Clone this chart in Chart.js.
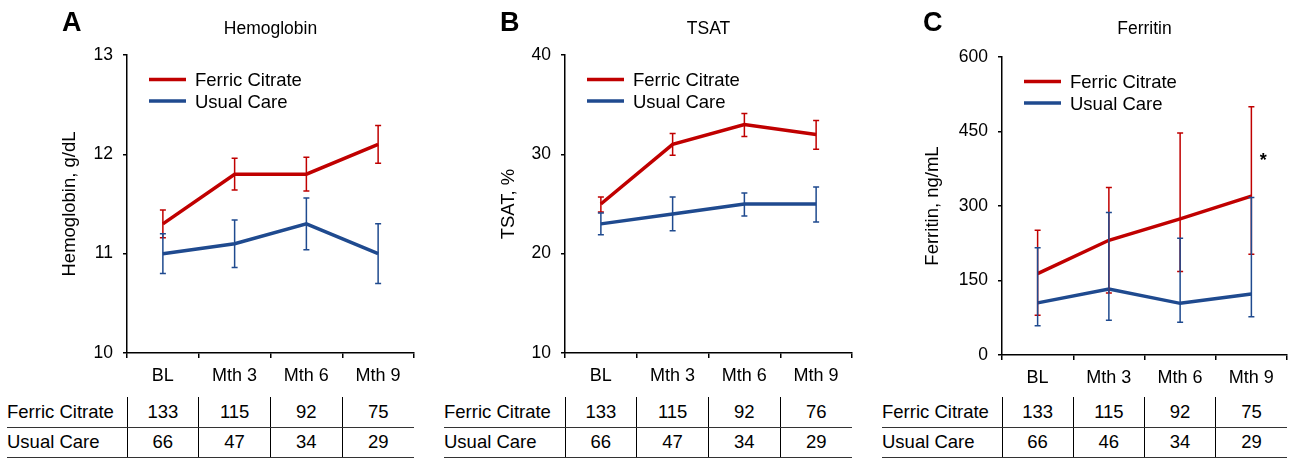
<!DOCTYPE html>
<html>
<head>
<meta charset="utf-8">
<script src="https://cdn.jsdelivr.net/npm/chart.js@4.4.0/dist/chart.umd.min.js"></script>
<style>
  body { margin: 0; background: #fff; font-family: "Liberation Sans", Arial, sans-serif; }
  #page { position: relative; width: 1292px; height: 458px; overflow: hidden; }
  #page canvas { position: absolute; top: 0; }
  table.counts { position: absolute; top: 397px; border-collapse: collapse; table-layout: fixed;
    font-size: 18.5px; color: #000; }
  table.counts td { height: 29.5px; padding: 0; text-align: center; vertical-align: middle;
    border-bottom: 1.5px solid #333; white-space: nowrap; }
  table.counts tr:first-child td { border-top: 2px solid #333; }
  table.counts tr:last-child td { border-bottom: 2px solid #333; }
  table.counts td + td { border-left: 1.5px solid #000; }
  table.counts td:first-child { text-align: left; }
</style>
</head>
<body>
<div id="page"></div>
<script>
// categories and groups
const categories = ['BL', 'Mth 3', 'Mth 6', 'Mth 9'];
const groups = ['Ferric Citrate', 'Usual Care'];

// hemoglobin, g/dL (mean, lower and upper error bar)
const hgbFerric = [11.3, 11.8, 11.8, 12.1];
const hgbFerricLow = [11.16, 11.64, 11.63, 11.91];
const hgbFerricHigh = [11.44, 11.96, 11.97, 12.29];
const hgbUsual = [11.0, 11.1, 11.3, 11.0];
const hgbUsualLow = [10.80, 10.86, 11.04, 10.70];
const hgbUsualHigh = [11.20, 11.34, 11.56, 11.30];
const hgbTicks = [10, 11, 12, 13];

// TSAT, %
const tsatFerric = [25, 31, 33, 32];
const tsatFerricLow = [24.2, 29.9, 31.8, 30.5];
const tsatFerricHigh = [25.7, 32.1, 34.1, 33.4];
const tsatUsual = [23, 24, 25, 25];
const tsatUsualLow = [21.9, 22.3, 23.8, 23.2];
const tsatUsualHigh = [24.1, 25.7, 26.1, 26.7];
const tsatTicks = [10, 20, 30, 40];

// ferritin, ng/mL
const ferFerric = [164, 231, 274, 320];
const ferFerricLow = [80, 125, 168, 203];
const ferFerricHigh = [251, 337, 447, 500];
const ferUsual = [105, 133, 104, 123];
const ferUsualLow = [59, 70, 66, 77];
const ferUsualHigh = [216, 287, 235, 317];
const ferTicks = [0, 150, 300, 450, 600];

// patients at each visit
const hgbCounts = [[133, 115, 92, 75], [66, 47, 34, 29]];
const tsatCounts = [[133, 115, 92, 76], [66, 47, 34, 29]];
const ferCounts = [[133, 115, 92, 75], [66, 46, 34, 29]];

const RED = '#c00000';
const BLUE = '#1f4a8f';
const FONT = '"Liberation Sans", Arial, sans-serif';
const CANVAS_H = 392;

Chart.defaults.font.family = FONT;
Chart.defaults.color = '#000';

// error bars from dataset.low / dataset.high
const errorBars = {
  id: 'errorBars',
  afterDatasetsDraw(chart) {
    const { ctx } = chart;
    const y = chart.scales.y;
    chart.data.datasets.forEach((ds, i) => {
      const meta = chart.getDatasetMeta(i);
      ctx.save();
      ctx.strokeStyle = ds.borderColor;
      ctx.lineWidth = 1.5;
      meta.data.forEach((pt, j) => {
        const yl = y.getPixelForValue(ds.low[j]);
        const yh = y.getPixelForValue(ds.high[j]);
        ctx.beginPath();
        ctx.moveTo(pt.x, yl); ctx.lineTo(pt.x, yh);
        ctx.moveTo(pt.x - 3, yl); ctx.lineTo(pt.x + 3, yl);
        ctx.moveTo(pt.x - 3, yh); ctx.lineTo(pt.x + 3, yh);
        ctx.stroke();
      });
      ctx.restore();
    });
  }
};

// panel letter, title, legend and the significance mark
const panelText = {
  id: 'panelText',
  afterDraw(chart, args, opts) {
    const { ctx, chartArea: a } = chart;
    ctx.save();
    ctx.fillStyle = '#000';
    ctx.textBaseline = 'alphabetic';
    ctx.textAlign = 'left';
    ctx.font = 'bold 27px ' + FONT;
    ctx.fillText(opts.letter, opts.letterX, 31);
    ctx.textAlign = 'center';
    ctx.font = '17.5px ' + FONT;
    ctx.fillText(opts.title, (a.left + a.right) / 2, 34);

    chart.data.datasets.forEach((ds, i) => {
      const yy = a.top + 24.5 + i * 21.5;
      ctx.strokeStyle = ds.borderColor;
      ctx.lineWidth = 3.5;
      ctx.beginPath();
      ctx.moveTo(a.left + 22, yy);
      ctx.lineTo(a.left + 59, yy);
      ctx.stroke();
      ctx.textAlign = 'left';
      ctx.font = '18.5px ' + FONT;
      ctx.fillText(ds.label, a.left + 68, yy + 6.6);
    });

    if (opts.star) {
      const pt = chart.getDatasetMeta(0).data[opts.star.index];
      ctx.font = 'bold 18px ' + FONT;
      ctx.textAlign = 'center';
      ctx.fillText('*', pt.x + 12, chart.scales.y.getPixelForValue(opts.star.value) + 10);
    }
    ctx.restore();
  }
};

const panels = [
  { letter: 'A', letterX: 62, title: 'Hemoglobin', axis: 'Hemoglobin, g/dL', left: 0, width: 430,
    area: { left: 127, top: 55, right: 414, bottom: 353 }, axisTitleX: 70, tableLeft: 7,
    ticks: hgbTicks, counts: hgbCounts,
    series: [[hgbFerric, hgbFerricLow, hgbFerricHigh], [hgbUsual, hgbUsualLow, hgbUsualHigh]] },
  { letter: 'B', letterX: 70, title: 'TSAT', axis: 'TSAT, %', left: 430, width: 440,
    area: { left: 135, top: 55, right: 422, bottom: 353 }, axisTitleX: 79, tableLeft: 14,
    ticks: tsatTicks, counts: tsatCounts,
    series: [[tsatFerric, tsatFerricLow, tsatFerricHigh], [tsatUsual, tsatUsualLow, tsatUsualHigh]] },
  { letter: 'C', letterX: 53, title: 'Ferritin', axis: 'Ferritin, ng/mL', left: 870, width: 422,
    area: { left: 132, top: 57, right: 417, bottom: 355 }, axisTitleX: 62.5, tableLeft: 12,
    ticks: ferTicks, counts: ferCounts, star: { index: 3, value: 400 },
    series: [[ferFerric, ferFerricLow, ferFerricHigh], [ferUsual, ferUsualLow, ferUsualHigh]] }
];

const page = document.getElementById('page');

function buildTable(p, chart) {
  const a = chart.chartArea;
  const colW = (a.right - a.left) / categories.length;
  const firstW = a.left - p.tableLeft;
  const t = document.createElement('table');
  t.className = 'counts';
  t.style.left = (p.left + p.tableLeft) + 'px';
  t.style.width = (a.right - p.tableLeft) + 'px';
  const cg = document.createElement('colgroup');
  [firstW].concat(categories.map(() => colW)).forEach(w => {
    const c = document.createElement('col');
    c.style.width = w + 'px';
    cg.appendChild(c);
  });
  t.appendChild(cg);
  groups.forEach((g, i) => {
    const tr = document.createElement('tr');
    [g].concat(p.counts[i]).forEach(v => {
      const td = document.createElement('td');
      td.textContent = v;
      tr.appendChild(td);
    });
    t.appendChild(tr);
  });
  page.appendChild(t);
}

panels.forEach(p => {
  const cv = document.createElement('canvas');
  cv.width = p.width;
  cv.height = CANVAS_H;
  cv.style.left = p.left + 'px';
  page.appendChild(cv);

  const xHeight = 37;
  const chart = new Chart(cv, {
    type: 'line',
    data: {
      labels: categories,
      datasets: p.series.map((s, i) => ({
        label: groups[i],
        data: s[0],
        low: s[1],
        high: s[2],
        borderColor: i === 0 ? RED : BLUE,
        backgroundColor: i === 0 ? RED : BLUE,
        borderWidth: 3.5,
        pointRadius: 0,
        tension: 0
      }))
    },
    options: {
      responsive: false,
      animation: false,
      devicePixelRatio: 1,
      layout: { padding: { left: 0, top: p.area.top, right: p.width - p.area.right,
        bottom: CANVAS_H - p.area.bottom - xHeight } },
      plugins: {
        legend: { display: false },
        tooltip: { enabled: false },
        panelText: { letter: p.letter, letterX: p.letterX, title: p.title, star: p.star }
      },
      scales: {
        x: {
          offset: true,
          grid: { drawOnChartArea: false, drawTicks: true, tickLength: 5, color: '#000', lineWidth: 1.5, offset: true },
          border: { color: '#000', width: 1.5 },
          ticks: { color: '#000', font: { size: 18 }, padding: 7, maxRotation: 0 },
          afterFit(s) { s.height = xHeight; }
        },
        y: {
          min: p.ticks[0],
          max: p.ticks[p.ticks.length - 1],
          afterBuildTicks(s) { s.ticks = p.ticks.map(v => ({ value: v })); },
          grid: { drawOnChartArea: false, drawTicks: true, tickLength: 4, color: '#000', lineWidth: 1.5 },
          border: { color: '#000', width: 1.5 },
          ticks: { color: '#000', font: { size: 17.5 }, padding: 10 },
          title: { display: true, text: p.axis, color: '#000', font: { size: 18.5, lineHeight: 1 },
            padding: { top: p.axisTitleX - 9.25, bottom: 0 } },
          afterFit(s) { s.width = p.area.left; }
        }
      }
    },
    plugins: [errorBars, panelText]
  });
  buildTable(p, chart);
});
</script>
</body>
</html>
